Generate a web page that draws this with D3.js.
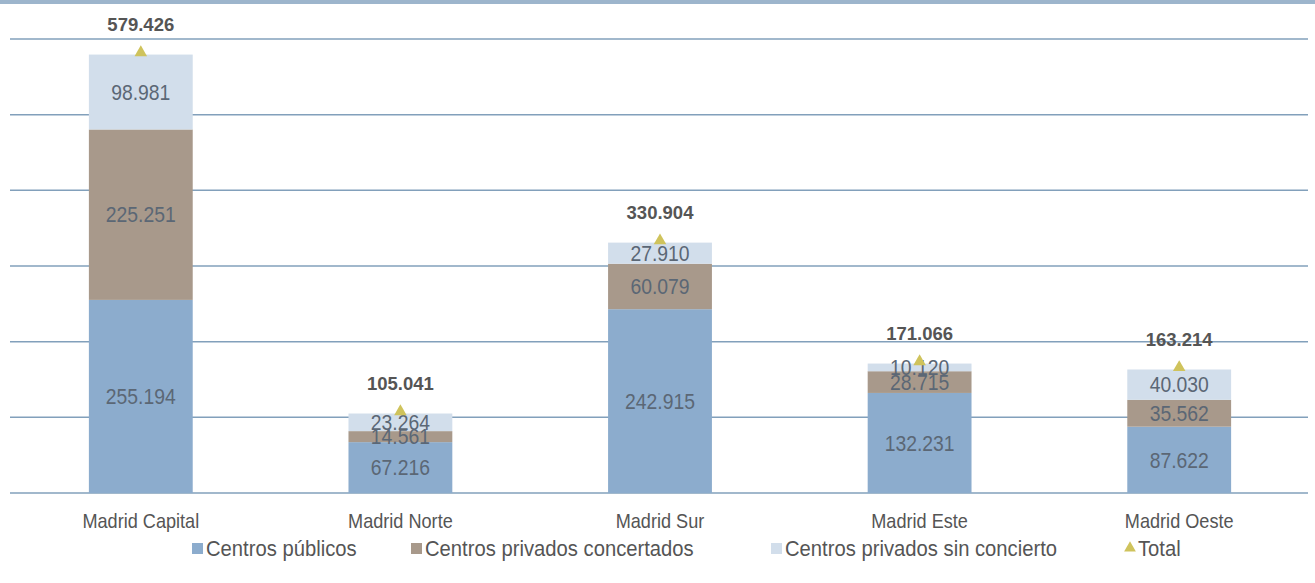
<!DOCTYPE html>
<html><head><meta charset="utf-8">
<script src="https://cdn.jsdelivr.net/npm/d3@7"></script>
<style>
body{margin:0;background:#fff;}
svg{display:block;}
</style></head>
<body>
<svg id="chart" width="1315" height="583"></svg>
<script>
const categories = ["Madrid Capital","Madrid Norte","Madrid Sur","Madrid Este","Madrid Oeste"];
const publicos = [255194, 67216, 242915, 132231, 87622];
const concertados = [225251, 14561, 60079, 28715, 35562];
const sinConcierto = [98981, 23264, 27910, 10120, 40030];
const totals = [579426, 105041, 330904, 171066, 163214];
const seriesNames = ["Centros públicos","Centros privados concertados","Centros privados sin concierto"];
const yTicks = [0,100000,200000,300000,400000,500000,600000];

const colors = ["#8caccd","#a8998b","#d2deeb"];
const fmtLabel = v => { const s = String(v); return s.slice(0, s.length-3) + "." + s.slice(-3); };

const svg = d3.select("#chart");
const x = d3.scaleBand().domain(categories).range([11,1309]).paddingInner(0.6).paddingOuter(0.3);
const y = d3.scaleLinear().domain([0,600000]).range([493,39]);

// top border
svg.append("rect").attr("x",0).attr("y",0).attr("width",1315).attr("height",4).attr("fill","#9db5cc");

// gridlines
svg.append("g").selectAll("line").data(yTicks).join("line")
  .attr("x1",10).attr("x2",1308)
  .attr("y1",d=>y(d)).attr("y2",d=>y(d))
  .attr("stroke","#82a0bb").attr("stroke-width",1.5);

const data = categories.map((c,i)=>({cat:c, s0:publicos[i], s1:concertados[i], s2:sinConcierto[i], total:totals[i]}));
const stack = d3.stack().keys(["s0","s1","s2"])(data);

const g = svg.append("g");
stack.forEach((layer,li)=>{
  g.append("g").selectAll("rect").data(layer).join("rect")
    .attr("x",d=>x(d.data.cat))
    .attr("width",x.bandwidth())
    .attr("y",d=>y(d[1]))
    .attr("height",d=>y(d[0])-y(d[1]))
    .attr("fill",colors[li]);
});

// segment labels (condensed look via horizontal scale)
stack.forEach((layer,li)=>{
  g.append("g").selectAll("text").data(layer).join("text")
    .attr("transform",d=>`translate(${x(d.data.cat)+x.bandwidth()/2},${(y(d[0])+y(d[1]))/2}) scale(0.9,1)`)
    .attr("dy","0.36em")
    .attr("text-anchor","middle")
    .attr("font-family","'Liberation Sans',Arial,sans-serif")
    .attr("font-size",21.5)
    .attr("fill","#5b6775")
    .text(d=>fmtLabel(d.data["s"+li]));
});

// total markers
const tri = d3.symbol().type(d3.symbolTriangle).size(68);
g.append("g").selectAll("path").data(data).join("path")
  .attr("transform",d=>`translate(${x(d.cat)+x.bandwidth()/2},${y(d.total)-2})`)
  .attr("d",tri)
  .attr("fill","#cfc35c");

g.append("g").selectAll("text").data(data).join("text")
  .attr("x",d=>x(d.cat)+x.bandwidth()/2)
  .attr("y",d=>y(d.total)-30)
  .attr("dy","0.36em")
  .attr("text-anchor","middle")
  .attr("font-family","'Liberation Sans',Arial,sans-serif")
  .attr("font-weight","bold")
  .attr("font-size",18.5)
  .attr("fill","#555555")
  .text(d=>fmtLabel(d.total));

// x axis labels
const xAxis = d3.axisBottom(x).tickSize(0).tickPadding(0);
const ax = svg.append("g").attr("transform","translate(0,493)").call(xAxis);
ax.select(".domain").remove();
ax.selectAll("text")
  .attr("y",0).attr("dy","0.36em")
  .attr("transform","translate(0,28) scale(0.93,1)")
  .attr("font-family","'Liberation Sans',Arial,sans-serif")
  .attr("font-size",19.5)
  .attr("fill","#555555");

// legend
const legendItems = [
  {name:seriesNames[0], type:"rect", color:colors[0], x:192},
  {name:seriesNames[1], type:"rect", color:colors[1], x:411},
  {name:seriesNames[2], type:"rect", color:colors[2], x:771},
  {name:"Total", type:"tri", color:"#cfc35c", x:1124}
];
const lg = svg.append("g");
const ly = 548;
legendItems.forEach(it=>{
  if(it.type==="rect"){
    lg.append("rect").attr("x",it.x).attr("y",ly-5).attr("width",11).attr("height",11).attr("fill",it.color);
  } else {
    lg.append("path").attr("d",d3.symbol().type(d3.symbolTriangle).size(60)).attr("transform",`translate(${it.x+6},${ly})`).attr("fill",it.color);
  }
  lg.append("text").attr("transform",`translate(${it.x+14},${ly}) scale(0.92,1)`).attr("dy","0.36em")
    .attr("font-family","'Liberation Sans',Arial,sans-serif")
    .attr("font-size",22).attr("fill","#555555").text(it.name);
});
</script>
</body></html>
